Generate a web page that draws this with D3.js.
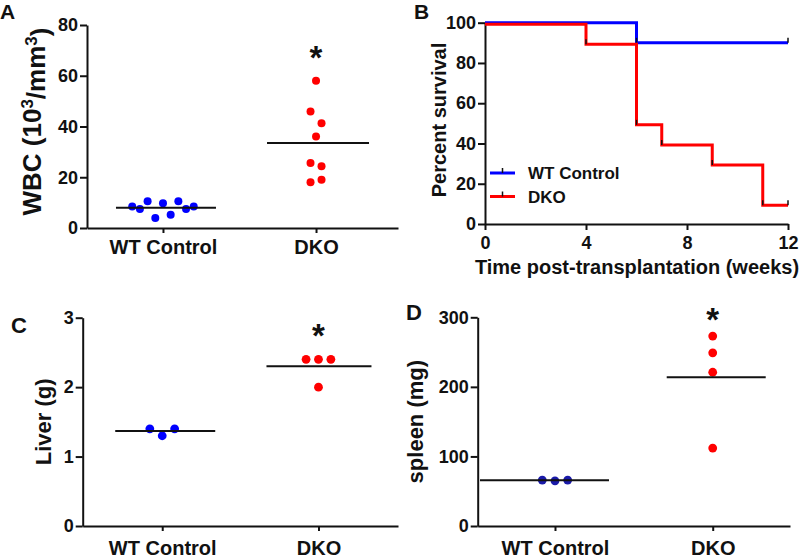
<!DOCTYPE html>
<html><head><meta charset="utf-8">
<script src="https://cdn.jsdelivr.net/npm/d3@7"></script>
<style>
body{margin:0;background:#fff}
text{font-family:"Liberation Sans",Arial,sans-serif;font-weight:bold;fill:#111}
</style>
</head><body>
<svg id="chart" width="800" height="558"></svg>
<script>
// ---------- data ----------
const groups = ["WT Control", "DKO"];
const wbcWT = [8.5, 7.5, 10.5, 3.9, 9.8, 5.2, 10.5, 7.5, 8.5];
const wbcDKO = [58.0, 45.9, 41.3, 36.1, 25.6, 24.3, 18.0, 19.0];
const liverWT = [1.4, 1.3, 1.4];
const liverDKO = [2.4, 2.4, 2.4, 2.0];
const spleenWT = [66, 65, 66];
const spleenDKO = [273, 249, 221, 112];
const wtTimes = [0, 6, 12];
const wtSurvival = [100, 90, 90];
const dkoTimes = [0, 4, 6, 7, 9, 11, 12];
const dkoSurvival = [100, 90, 50, 40, 30, 10, 10];
const wbcTicks = [0, 20, 40, 60, 80];
const survYTicks = [0, 20, 40, 60, 80, 100];
const survXTicks = [0, 4, 8, 12];
const liverTicks = [0, 1, 2, 3];
const spleenTicks = [0, 100, 200, 300];
const seriesNames = ["WT Control", "DKO"];

const BLUE = "#0000ff", RED = "#ff0000";
const TICK_FS = 18;
const svg = d3.select("#chart");

function styleAxis(g, fs) {
  g.selectAll(".domain").attr("stroke", "#111").attr("stroke-width", 2);
  g.selectAll(".tick line").attr("stroke", "#111").attr("stroke-width", 2);
  g.selectAll(".tick text").style("font-size", fs + "px").attr("fill", "#111");
}

// simple GraphPad-like column scatter: rows of near-equal values spread horizontally
function swarm(values, y, cx, spacing, maxW, thresh) {
  const pts = values.map((v, i) => ({ v, i, py: y(v) }));
  const sorted = pts.slice().sort((a, b) => a.py - b.py);
  const rows = [];
  sorted.forEach(p => {
    const last = rows[rows.length - 1];
    if (last && Math.abs(p.py - last[last.length - 1].py) < thresh) last.push(p);
    else rows.push([p]);
  });
  rows.forEach(r => {
    r.sort((a, b) => a.i - b.i);
    const n = r.length;
    const sp = n > 1 ? Math.min(spacing, maxW / (n - 1)) : 0;
    r.forEach((p, k) => { p.px = cx + (k - (n - 1) / 2) * sp; });
  });
  return pts;
}

function scatterPanel(o) {
  const x = d3.scalePoint().domain(groups).range([o.x0, o.x1]).padding(o.pad).align(o.align);
  const y = d3.scaleLinear().domain([0, o.ymax]).range([o.yb, o.yt]);
  const gy = svg.append("g").attr("transform", `translate(${o.x0},0)`)
    .call(d3.axisLeft(y).tickValues(o.ticks).tickFormat(d3.format("~g"))
      .tickSize(7).tickPadding(2).tickSizeOuter(0));
  styleAxis(gy, TICK_FS);
  const gx = svg.append("g").attr("transform", `translate(0,${o.yb})`)
    .call(d3.axisBottom(x).tickSize(5).tickPadding(o.xpad).tickSizeOuter(0));
  styleAxis(gx, 20);
  const sets = [[o.wt, o.wtColor || BLUE, o.meanWT], [o.dko, RED, o.meanDKO]];
  sets.forEach(([vals, fill, ext], gi) => {
    const cx = x(groups[gi]);
    const pts = swarm(vals, y, cx, o.spacing, o.maxW, o.thresh);
    svg.append("g").selectAll("circle").data(pts).join("circle")
      .attr("cx", d => d.px).attr("cy", d => d.py).attr("r", o.r).attr("fill", fill);
    const m = d3.mean(vals);
    svg.append("line").attr("x1", cx - ext[0]).attr("x2", cx + ext[1])
      .attr("y1", y(m)).attr("y2", y(m)).attr("stroke", "#111").attr("stroke-width", 2);
  });
  // significance star
  svg.append("text").attr("x", x(groups[1])).attr("y", y(o.star) + 19)
    .attr("text-anchor", "middle").style("font-size", "33px").text("*");
  // y title
  const t = svg.append("text")
    .attr("transform", `translate(${o.titleX},${(o.yb + o.yt) / 2 + (o.titleDy || 0)}) rotate(-90)`)
    .attr("text-anchor", "middle").style("font-size", o.titleFs + "px");
  o.title(t);
  // panel letter
  svg.append("text").attr("x", o.letterX).attr("y", o.letterY)
    .style("font-size", o.letterFs + "px").text(o.letter);
}

// Panel A
scatterPanel({
  x0: 87, x1: 398, pad: 0.516, align: 0.481, yb: 228, yt: 25, ymax: 80, ticks: wbcTicks,
  wt: wbcWT, dko: wbcDKO, spacing: 11, maxW: 61.5, thresh: 12.5, r: 4,
  meanWT: [47, 53], meanDKO: [49, 53], star: 70, xpad: 7,
  titleX: 41, titleDy: -5, titleFs: 26,
  title: t => {
    t.append("tspan").text("WBC (10");
    t.append("tspan").attr("dy", "-0.45em").style("font-size", "17px").text("3");
    t.append("tspan").attr("dy", "0.45em").text("/mm");
    t.append("tspan").attr("dy", "-0.45em").style("font-size", "17px").text("3");
    t.append("tspan").attr("dy", "0.45em").text(")");
  },
  letter: "A", letterX: 0, letterY: 19, letterFs: 21
});

// Panel C
scatterPanel({
  x0: 82.7, x1: 398, pad: 0.509, align: 0.5, yb: 526, yt: 317.7, ymax: 3, ticks: liverTicks,
  wt: liverWT, dko: liverDKO, spacing: 12.4, maxW: 60, thresh: 12.5, r: 4.4,
  meanWT: [47, 53], meanDKO: [52, 53], star: 2.85, xpad: 10,
  titleX: 51, titleFs: 22,
  title: t => t.text("Liver (g)"),
  letter: "C", letterX: 11, letterY: 333, letterFs: 22
});

// Panel D
scatterPanel({
  x0: 477.7, x1: 790, pad: 0.49, align: 0.5, yb: 526, yt: 317.3, ymax: 300, ticks: spleenTicks,
  wt: spleenWT, dko: spleenDKO, spacing: 12.7, maxW: 60, thresh: 12.5, r: 4.4,
  wtColor: "#1a1aa8",
  meanWT: [75, 54], meanDKO: [46, 53], star: 308, xpad: 10,
  titleX: 423, titleFs: 22,
  title: t => t.text("spleen (mg)"),
  letter: "D", letterX: 406, letterY: 320, letterFs: 22
});

// Panel B: survival
(function () {
  const x = d3.scaleLinear().domain([0, 12]).range([485, 788]);
  const y = d3.scaleLinear().domain([0, 100]).range([224, 22.7]);
  const gy = svg.append("g").attr("transform", "translate(485,0)")
    .call(d3.axisLeft(y).tickValues(survYTicks).tickSize(7).tickPadding(2).tickSizeOuter(0));
  styleAxis(gy, TICK_FS);
  const gx = svg.append("g").attr("transform", "translate(0,224)")
    .call(d3.axisBottom(x).tickValues(survXTicks).tickSize(6).tickPadding(6).tickSizeOuter(0));
  styleAxis(gx, TICK_FS);

  const line = d3.line().x(d => x(d[0])).y(d => y(d[1])).curve(d3.curveStepAfter);
  const series = [
    { pts: d3.zip(wtTimes, wtSurvival), c: BLUE, off: 0 },
    { pts: d3.zip(dkoTimes, dkoSurvival), c: RED, off: 1.5 }
  ];
  series.forEach(s => {
    const g = svg.append("g").attr("transform", `translate(0,${s.off})`);
    g.append("path").attr("d", line(s.pts)).attr("fill", "none")
      .attr("stroke", s.c).attr("stroke-width", 3);
    g.selectAll("line").data(s.pts.slice(1)).join("line")
      .attr("x1", d => x(d[0])).attr("x2", d => x(d[0]))
      .attr("y1", d => y(d[1])).attr("y2", d => y(d[1]) - 5)
      .attr("stroke", "#111").attr("stroke-width", 1.5);
  });

  // legend
  const lg = svg.append("g");
  [BLUE, RED].forEach((c, i) => {
    const ly = 173 + i * 23.5;
    lg.append("line").attr("x1", 490).attr("x2", 515).attr("y1", ly).attr("y2", ly)
      .attr("stroke", c).attr("stroke-width", 3);
    lg.append("line").attr("x1", 502.5).attr("x2", 502.5).attr("y1", ly).attr("y2", ly - 5)
      .attr("stroke", "#111").attr("stroke-width", 1.5);
    lg.append("text").attr("x", 528).attr("y", ly + 6).style("font-size", "17px").text(seriesNames[i]);
  });

  svg.append("text").attr("transform", "translate(446,120) rotate(-90)")
    .attr("text-anchor", "middle").style("font-size", "20px").text("Percent survival");
  svg.append("text").attr("x", 637).attr("y", 274)
    .attr("text-anchor", "middle").style("font-size", "20px").text("Time post-transplantation (weeks)");
  svg.append("text").attr("x", 414).attr("y", 19).style("font-size", "21px").text("B");
})();
</script>
</body></html>
